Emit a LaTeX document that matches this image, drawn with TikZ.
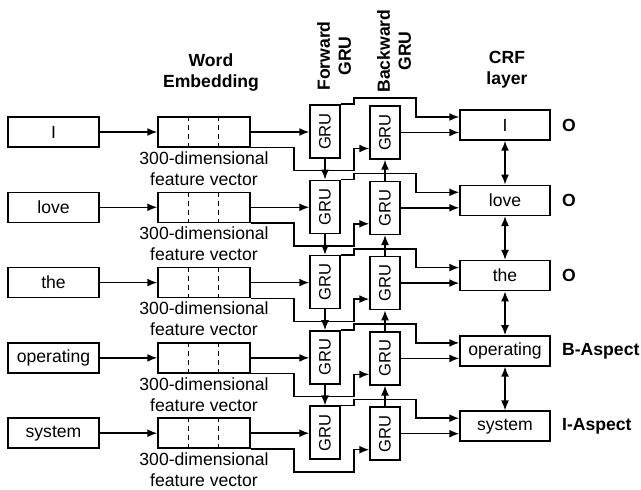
\documentclass[tikz,border=0pt]{standalone}
\usepackage{fontspec}
\setmainfont{Liberation Sans}
\usepackage{graphicx}
\usetikzlibrary{arrows, arrows.meta, positioning}

\tikzset{
  box/.style={draw, line width=0.75pt, inner sep=0pt, font=\fontsize{8.8}{10.5}\selectfont},
  wordbox/.style={box, minimum width=45.5pt, minimum height=15pt},
  embbox/.style={box, minimum width=46pt, minimum height=15pt},
  grubox/.style={box, minimum width=15pt, minimum height=26.5pt, font=\fontsize{8.3}{10}\selectfont},
  crfbox/.style={box, minimum width=45pt, minimum height=15pt},
  conn/.style={->, >={Latex[length=5pt,width=4pt]}, line width=0.75pt},
  head/.style={font=\fontsize{8.8}{10.5}\selectfont\bfseries, align=center},
  caption/.style={font=\fontsize{8.8}{10.5}\selectfont, align=center},
  tag/.style={font=\fontsize{8.8}{10.5}\selectfont\bfseries, inner sep=0pt},
}

\begin{document}
\begin{tikzpicture}[x=0.5pt, y=-0.5pt]
\useasboundingbox (0,0) rectangle (641,490);

% headers
\node[head] (hemb) at (211,72) {Word\\Embedding};
\node[head, rotate=90] (hfwd) at (334,56) {Forward\\GRU};
\node[head, rotate=90] (hbwd) at (394,51) {Backward\\GRU};
\node[head] (hcrf) at (507,70) {CRF\\layer};

% rows
\foreach \w/\t [count=\i from 0] in {I/O, love/O, the/O, operating/B-Aspect, system/I-Aspect}{
  \pgfmathsetmacro\dy{75.3*\i}
  \node[wordbox] (word\i) at (53.5,132+\dy) {\w};
  \node[embbox] (emb\i) at (204,132+\dy) {};
  \draw[line width=0.75pt, dash pattern=on 2.5pt off 2pt]
    ([xshift=15.5pt]emb\i.north west) -- ([xshift=15.5pt]emb\i.south west);
  \draw[line width=0.75pt, dash pattern=on 2.5pt off 2pt]
    ([xshift=30.5pt]emb\i.north west) -- ([xshift=30.5pt]emb\i.south west);
  \node[caption] (cap\i) at (204,168.5+\dy) {300-dimensional\\feature vector};
  \node[grubox] (fgru\i) at (325,131.5+\dy) {\rotatebox{90}{GRU}};
  \node[grubox] (bgru\i) at (385,132.5+\dy) {\rotatebox{90}{GRU}};
  \node[crfbox] (crf\i) at (505,125+\dy) {\w};
  \node[tag, right=5.5pt of crf\i] (out\i) {\t};
  % connectors
  \draw[conn] (word\i) -- (emb\i);
  \draw[conn] (emb\i.east) -- (emb\i.east -| fgru\i.west);
  \draw[conn] (emb\i.south east) -- ++(43,0) -- ++(0,23) -- ++(60,0)
    |- ([yshift=-8pt]bgru\i.west);
  \draw[conn] (fgru\i.north east) -- ++(13,0) -- ++(0,-6) -- ++(62,0)
    |- ([yshift=4pt]crf\i.west);
  \draw[conn] (bgru\i.east) -- (bgru\i.east -| crf\i.west);
}

% links between rows
\foreach \i [evaluate=\i as \j using int(\i+1)] in {0,...,3}{
  \draw[conn] (fgru\i) -- (fgru\j);
  \draw[conn] (bgru\j) -- (bgru\i);
  \draw[conn, <->] (crf\i) -- (crf\j);
}
\end{tikzpicture}
\end{document}
